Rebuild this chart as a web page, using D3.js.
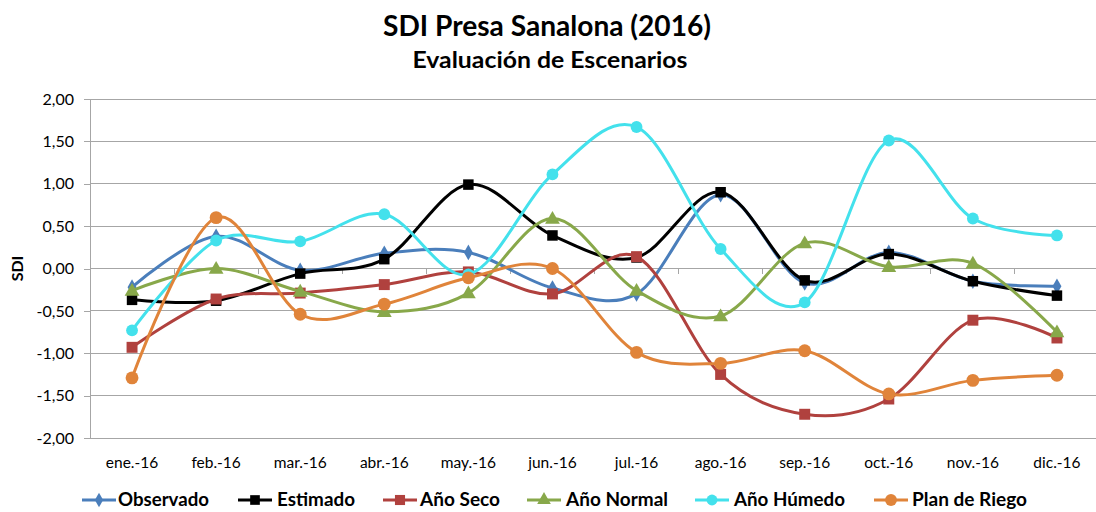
<!DOCTYPE html>
<html>
<head>
<meta charset="utf-8">
<script src="https://cdn.jsdelivr.net/npm/d3@7"></script>
<style>
  html, body { margin: 0; padding: 0; background: #fff; }
  svg { display: block; font-family: Lato, "Open Sans", sans-serif; }
</style>
</head>
<body>
<svg id="chart" width="1096" height="512"></svg>
<script>
// Months of 2016
const months = ["ene.-16","feb.-16","mar.-16","abr.-16","may.-16","jun.-16",
                "jul.-16","ago.-16","sep.-16","oct.-16","nov.-16","dic.-16"];

// SDI values per scenario
const observado   = [-0.22, 0.38, -0.02, 0.18, 0.19, -0.23, -0.30, 0.87, -0.17, 0.19, -0.15, -0.21];
const estimado    = [-0.37, -0.38, -0.06, 0.11, 0.99, 0.39, 0.13, 0.90, -0.14, 0.17, -0.15, -0.32];
const anoSeco     = [-0.93, -0.36, -0.29, -0.19, -0.04, -0.30, 0.14, -1.25, -1.72, -1.54, -0.61, -0.82];
const anoNormal   = [-0.26, 0.00, -0.27, -0.51, -0.29, 0.59, -0.26, -0.56, 0.30, 0.02, 0.06, -0.75];
const anoHumedo   = [-0.73, 0.33, 0.32, 0.64, -0.07, 1.11, 1.67, 0.23, -0.40, 1.51, 0.59, 0.39];
const planRiego   = [-1.29, 0.60, -0.54, -0.42, -0.11, 0.00, -0.99, -1.12, -0.97, -1.48, -1.32, -1.26];

const yTicks = [-2, -1.5, -1, -0.5, 0, 0.5, 1, 1.5, 2];

const series = [
  { name: "Observado",     values: observado, color: "#4A7EBB", symbol: d3.symbolDiamond,  size: 70 },
  { name: "Estimado",      values: estimado,  color: "#000000", symbol: d3.symbolSquare,   size: 110 },
  { name: "Año Seco",      values: anoSeco,   color: "#B0413E", symbol: d3.symbolSquare,   size: 120 },
  { name: "Año Normal",    values: anoNormal, color: "#88A84A", symbol: d3.symbolTriangle, size: 95 },
  { name: "Año Húmedo",    values: anoHumedo, color: "#43E1EC", symbol: d3.symbolCircle,   size: 110 },
  { name: "Plan de Riego", values: planRiego, color: "#E0843A", symbol: d3.symbolCircle,   size: 130 }
];

const svg = d3.select("#chart");
const plot = { left: 90, right: 1099, top: 99, bottom: 438 };

const x = d3.scalePoint().domain(months).range([plot.left, plot.right]).padding(0.5);
const step = x.step();
const y = d3.scaleLinear().domain([-2, 2]).range([plot.bottom, plot.top]);

// Title
svg.append("text").attr("x", 547).attr("y", 36).attr("text-anchor", "middle")
  .attr("font-size", 28).attr("font-weight", 700).attr("fill", "#000")
  .attr("textLength", 328).attr("lengthAdjust", "spacingAndGlyphs")
  .text("SDI Presa Sanalona (2016)");
svg.append("text").attr("x", 550).attr("y", 68).attr("text-anchor", "middle")
  .attr("font-size", 22).attr("font-weight", 700).attr("fill", "#000")
  .attr("textLength", 275).attr("lengthAdjust", "spacingAndGlyphs")
  .text("Evaluación de Escenarios");

// Horizontal gridlines
svg.append("g").selectAll("line").data(yTicks).join("line")
  .attr("x1", plot.left).attr("x2", plot.right)
  .attr("y1", d => y(d)).attr("y2", d => y(d))
  .attr("stroke", "#A6A6A6").attr("stroke-width", 1).attr("shape-rendering", "crispEdges");

// Value axis
const yAxis = svg.append("g").attr("transform", `translate(${plot.left},0)`)
  .call(d3.axisLeft(y).tickValues(yTicks).tickSize(6).tickPadding(10)
    .tickFormat(d => d3.format(".2f")(d).replace(".", ",").replace("−", "-")));
yAxis.selectAll("path, line").attr("stroke", "#A6A6A6").attr("shape-rendering", "crispEdges");
yAxis.selectAll("text").attr("font-family", "Lato, sans-serif").attr("font-size", 16).attr("fill", "#000");

// Axis title
svg.append("text").attr("transform", `translate(23,${y(0)}) rotate(-90)`)
  .attr("text-anchor", "middle").attr("font-size", 16).attr("font-weight", 700).text("SDI");

// Category axis crossing at zero, with tick marks between categories
const boundaries = d3.range(months.length + 1).map(i => plot.left + i * step);
svg.append("g").selectAll("line").data(boundaries).join("line")
  .attr("x1", d => d).attr("x2", d => d)
  .attr("y1", y(0)).attr("y2", y(0) + 5)
  .attr("stroke", "#A6A6A6").attr("shape-rendering", "crispEdges");

// Category labels at the bottom
svg.append("g").selectAll("text").data(months).join("text")
  .attr("x", d => x(d)).attr("y", 468).attr("text-anchor", "middle")
  .attr("font-size", 15.5).attr("fill", "#000").text(d => d);

// Smoothed lines
const line = d3.line()
  .x((d, i) => x(months[i]))
  .y(d => y(d))
  .curve(d3.curveCardinal.tension(0));

const gSeries = svg.append("g");
series.forEach(s => {
  gSeries.append("path").attr("d", line(s.values))
    .attr("fill", "none").attr("stroke", s.color).attr("stroke-width", 3)
    .attr("stroke-linejoin", "round").attr("stroke-linecap", "round");
  gSeries.append("g").selectAll("path").data(s.values).join("path")
    .attr("transform", (d, i) => `translate(${x(months[i])},${y(d) + (s.symbol === d3.symbolTriangle ? 1 : 0)})`)
    .attr("d", d3.symbol(s.symbol, s.size))
    .attr("fill", s.color);
});

// Legend
const legendItems = [
  { x0: 82,  tx: 118, w: 91 },
  { x0: 238, tx: 277, w: 78 },
  { x0: 383, tx: 420, w: 80 },
  { x0: 527, tx: 566, w: 102 },
  { x0: 695, tx: 734, w: 111 },
  { x0: 874, tx: 912, w: 115 }
];
const legend = svg.append("g");
series.forEach((s, i) => {
  const it = legendItems[i];
  const ly = 500;
  legend.append("line").attr("x1", it.x0).attr("x2", it.x0 + 34)
    .attr("y1", ly).attr("y2", ly).attr("stroke", s.color).attr("stroke-width", 3);
  legend.append("path").attr("transform", `translate(${it.x0 + 17},${ly})`)
    .attr("d", d3.symbol(s.symbol, s.size * 0.85)).attr("fill", s.color);
  legend.append("text").attr("x", it.tx).attr("y", 506)
    .attr("font-size", 18).attr("font-weight", 700).attr("fill", "#000")
    .attr("textLength", it.w).attr("lengthAdjust", "spacingAndGlyphs")
    .text(s.name);
});
</script>
</body>
</html>
